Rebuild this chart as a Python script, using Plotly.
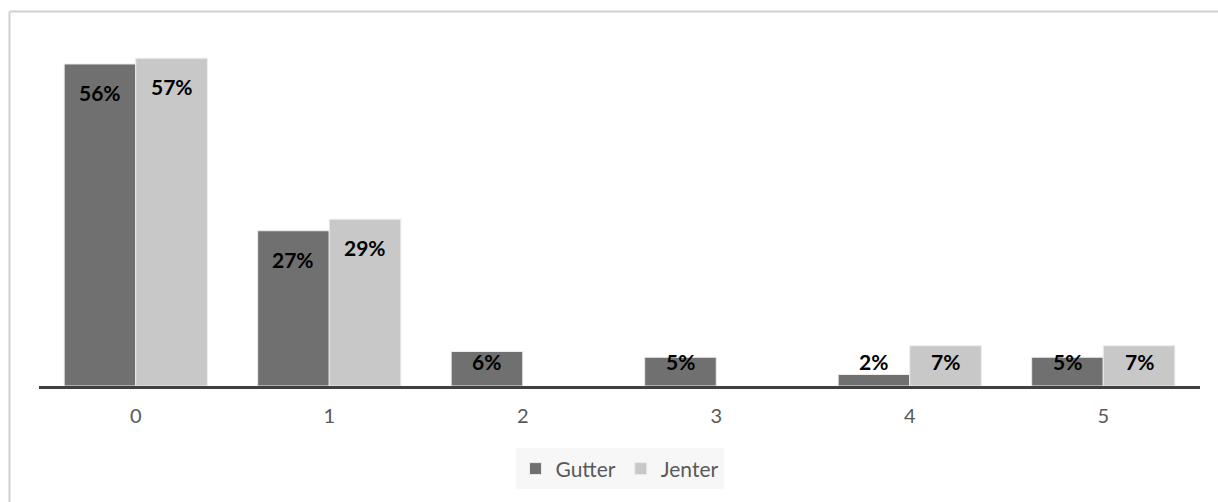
import plotly.graph_objects as go

categories = [0, 1, 2, 3, 4, 5]
gutter = [0.56, 0.27, 0.06, 0.05, 0.02, 0.05]
jenter = [0.57, 0.29, None, None, 0.07, 0.07]

series_names = ["Gutter", "Jenter"]
series_colors = ["#707070", "#c8c8c8"]

BAR_W = 0.37
FONT = "Lato, 'Open Sans', sans-serif"

fig = go.Figure()
for name, vals, color, offset in [
    (series_names[0], gutter, series_colors[0], -BAR_W),
    (series_names[1], jenter, series_colors[1], 0.0),
]:
    fig.add_trace(go.Bar(
        x=categories,
        y=vals,
        name=name,
        width=BAR_W,
        offset=offset,
        marker=dict(color=color, line=dict(color="#ececec", width=1)),
        hoverinfo="skip",
    ))

# value labels near the top of each bar, kept above the axis for short bars
annotations = []
for vals, shift in [(gutter, -BAR_W / 2), (jenter, BAR_W / 2)]:
    for c, v in zip(categories, vals):
        if v is None:
            continue
        annotations.append(dict(
            x=c + shift,
            y=max(v - 0.05, 0.042),
            xref="x", yref="y",
            text=f"{round(v * 100)}%",
            showarrow=False,
            yanchor="middle",
            font=dict(family=FONT, size=21, color="#000000", weight="bold"),
        ))

# chart-area frame: top and left edges
frame = dict(color="#cfcfcf", width=2)
shapes = [
    dict(type="line", xref="paper", yref="paper",
         x0=-0.0254, x1=1.2, y0=1.052, y1=1.052, line=frame, layer="below"),
    dict(type="line", xref="paper", yref="paper",
         x0=-0.0254, x1=-0.0254, y0=-0.6, y1=1.052, line=frame, layer="below"),
]

fig.update_layout(
    width=1218, height=502,
    margin=dict(l=39, r=18, t=30, b=116),
    paper_bgcolor="white",
    plot_bgcolor="white",
    barmode="overlay",
    showlegend=True,
    legend=dict(
        orientation="h",
        x=0.5, xanchor="center",
        y=-0.233, yanchor="middle",
        bgcolor="#f7f7f7",
        font=dict(family=FONT, size=21, color="#595959"),
        itemwidth=30,
        traceorder="normal",
    ),
    annotations=annotations,
    shapes=shapes,
    xaxis=dict(
        range=[-0.5, 5.5],
        tickmode="array",
        tickvals=categories,
        ticktext=[str(c) for c in categories],
        showgrid=False,
        zeroline=False,
        showline=True,
        linecolor="#404040",
        linewidth=3,
        ticks="",
        ticklabelstandoff=10,
        tickfont=dict(family=FONT, size=20, color="#595959"),
    ),
    yaxis=dict(
        range=[0, 0.6191],
        visible=False,
        showgrid=False,
        zeroline=False,
    ),
)

fig.write_html("out.html")
